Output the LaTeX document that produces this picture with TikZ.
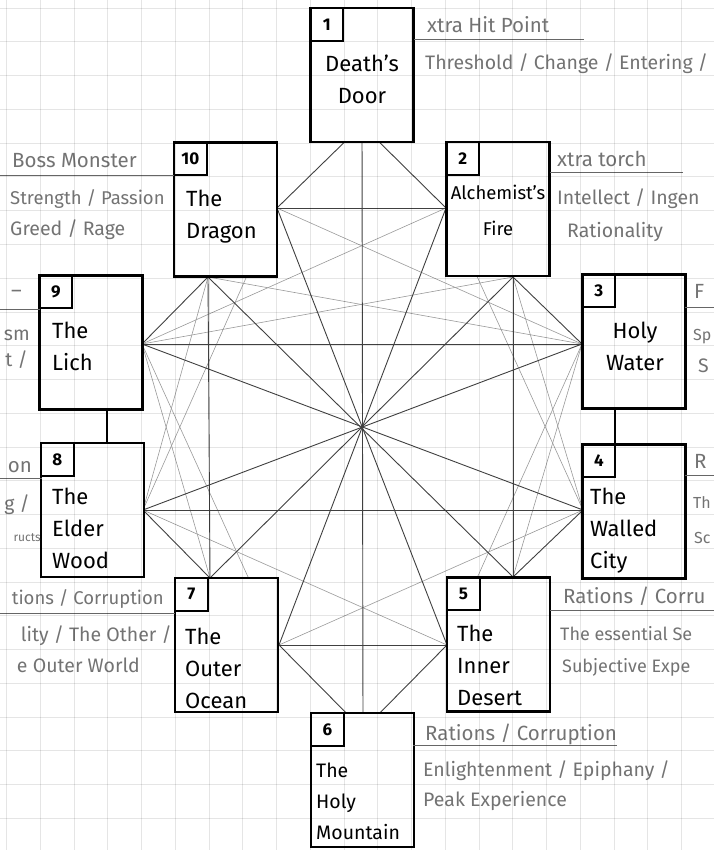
\documentclass[tikz,border=0pt]{standalone}
\usepackage{fontspec}
\setmainfont{Fira Sans}
\begin{document}
\begin{tikzpicture}[x=1pt,y=-1pt,
  card/.style={draw,line width=2.6pt,fill=white,minimum width=103pt,minimum height=134pt,inner sep=0pt},
  numbox/.style={draw,line width=2.2pt,minimum width=33pt,minimum height=33pt,inner sep=0pt,anchor=north west,font=\fontsize{17}{17}\selectfont\bfseries},
  title/.style={align=center,inner sep=0pt,font=\fontsize{22}{32}\selectfont},
  ltitle/.style={title,align=left,anchor=west},
  pencil/.style={text=black!55,inner sep=0pt,font=\fontsize{19.5}{20}\selectfont},
  head/.style={pencil,font=\fontsize{20.5}{20}\selectfont},
  ink/.style={black!75,line width=0.9pt},
  lead/.style={black!40,line width=0.6pt},
  rule/.style={black!60,line width=1pt},
  gridline/.style={black!10,line width=0.5pt}]
  \useasboundingbox (0,0) rectangle (714,850);
  \clip (0,0) rectangle (714,850);
  % anchor points of the web
  \coordinate (k1) at (362,125);
  \coordinate (k10r) at (277,208);
  \coordinate (k2l) at (446,208);
  \coordinate (k10b) at (208,277);
  \coordinate (k2b) at (513,277);
  \coordinate (k9) at (142,344);
  \coordinate (k3) at (582,344);
  \coordinate (k8) at (143,510);
  \coordinate (k4) at (583,510);
  \coordinate (k7t) at (210,578);
  \coordinate (k5t) at (513,577);
  \coordinate (k7r) at (279,645);
  \coordinate (k5l) at (447,645);
  \coordinate (k6) at (363,730);
  % light pencil lines
  \foreach \u/\v in {k10r/k3, k2l/k9, k9/k2b, k3/k10b, k8/k5l, k4/k7r, k9/k7t, k3/k5t, k8/k10b, k4/k2b, k10r/k8, k2l/k4, k9/k7r, k3/k5l}
    \draw[lead] (\u) -- (\v);
  % inked lines
  \foreach \u/\v in {k1/k10r, k1/k2l, k10r/k2l, k1/k6, k10b/k9, k2b/k3, k9/k3, k10b/k7t, k2b/k5t, k8/k4, k8/k7t, k4/k5t, k7r/k5l, k7r/k6, k5l/k6, k10b/k5t, k2b/k7t, k9/k4, k3/k8, k10r/k5l, k2l/k7r}
    \draw[ink] (\u) -- (\v);
  % cards
  \node[card] (c1) at (362,75) {};
  \node[card] (c2) at (498,209) {};
  \node[card] (c10) at (225.5,209.5) {};
  \node[card] (c9) at (91,342.5) {};
  \node[card] (c3) at (634,341.5) {};
  \node[card] (c8) at (92.5,510) {};
  \node[card] (c4) at (634,511.5) {};
  \node[card] (c7) at (226.5,645) {};
  \node[card] (c5) at (498.5,644.5) {};
  \node[card] (c6) at (362.5,780) {};
  \foreach \c/\n in {c1/1, c2/2, c3/3, c4/4, c5/5, c6/6, c7/7, c8/8, c9/9, c10/10}
    \node[numbox] (\c n) at (\c.north west) {\n};
  \draw[black,line width=1.3pt] ([xshift=16pt]c9.south) -- ([xshift=16pt]c9.south |- c8.north);
  \draw[black,line width=1.3pt] ([xshift=-19pt]c3.south) -- ([xshift=-19pt]c3.south |- c4.north);
  % titles
  \node[title] (t1) at (362,79) {Death's\\Door};
  \node[title,font=\fontsize{18.5}{36}\selectfont] (t2) at (498,210) {Alchemist's\\Fire};
  \node[title] (t3) at (635,346) {Holy\\Water};
  \node[ltitle] (t4) at (590,531) {The\\Walled\\City};
  \node[ltitle] (t5) at (457,665) {The\\Inner\\Desert};
  \node[ltitle,font=\fontsize{19.5}{31}\selectfont] (t6) at (316,801) {The\\Holy\\Mountain};
  \node[ltitle] (t7) at (185,668) {The\\Outer\\Ocean};
  \node[ltitle] (t8) at (52,528) {The\\Elder\\Wood};
  \node[ltitle] (t9) at (52,346) {The\\Lich};
  \node[ltitle] (t10) at (186,217) {The\\Dragon};
  % side notes
  \node[head,anchor=base west] (h1) at (427,33) {xtra Hit Point};
  \draw[rule] (414,40) -- (584,40);
  \node[pencil,anchor=base west] (s1) at (425,70) {Threshold / Change / Entering /};
  \node[head,anchor=base west] (h2) at (557,167) {xtra torch};
  \draw[rule] (550,173) -- (683,173);
  \node[pencil,anchor=base west] (s2) at (557,205) {Intellect / Ingen};
  \node[pencil,anchor=base west] (s2b) at (567,237) {Rationality};
  \node[head,anchor=base west] (h10) at (12,168) {Boss Monster};
  \draw[rule] (0,176) -- (174,176);
  \node[pencil,anchor=base west,font=\fontsize{18.5}{20}\selectfont] (s10) at (10,205) {Strength / Passion};
  \node[pencil,anchor=base west] (s10b) at (10,236) {Greed / Rage};
  \node[head,anchor=base east] (h9) at (22,297) {--};
  \draw[rule] (0,309) -- (40,309);
  \node[pencil,anchor=base east] (s9) at (30,340) {sm};
  \node[pencil,anchor=base east] (s9b) at (28,366) {t /};
  \node[head,anchor=base east] (h8) at (32,472) {on};
  \draw[rule] (0,478) -- (42,478);
  \node[pencil,anchor=base east] (s8) at (30,510) {g /};
  \node[pencil,anchor=base east,font=\fontsize{12}{14}\selectfont] (s8b) at (41,541) {ructs};
  \node[head,anchor=base west] (h3) at (694,298) {F};
  \draw[rule] (685,307) -- (714,307);
  \node[pencil,anchor=base west,font=\fontsize{16}{18}\selectfont] (s3) at (693,340) {Sp};
  \node[pencil,anchor=base west] (s3b) at (698,372) {S};
  \node[head,anchor=base west] (h4) at (694,468) {R};
  \draw[rule] (685,475) -- (714,475);
  \node[pencil,anchor=base west,font=\fontsize{16}{18}\selectfont] (s4) at (693,508) {Th};
  \node[pencil,anchor=base west,font=\fontsize{16}{18}\selectfont] (s4b) at (694,543) {Sc};
  \node[head,anchor=base east,font=\fontsize{18.5}{20}\selectfont] (h7) at (164,604) {tions / Corruption};
  \draw[rule] (0,613) -- (175,613);
  \node[pencil,anchor=base east] (s7) at (172,641) {lity / The Other /};
  \node[pencil,anchor=base east] (s7b) at (140,672) {e Outer World};
  \node[head,anchor=base west] (h5) at (563,603) {Rations / Corru};
  \draw[rule] (550,610) -- (714,610);
  \node[pencil,anchor=base west,font=\fontsize{18}{18}\selectfont] (s5) at (560,640) {The essential Se};
  \node[pencil,anchor=base west,font=\fontsize{18}{18}\selectfont] (s5b) at (562,672) {Subjective Expe};
  \node[head,anchor=base west] (h6) at (425,740) {Rations / Corruption};
  \draw[rule] (413,745) -- (617,745);
  \node[pencil,anchor=base west] (s6) at (423,776) {Enlightenment / Epiphany /};
  \node[pencil,anchor=base west] (s6b) at (423,806) {Peak Experience};
  % graph paper, laid under the ink
  \begin{scope}[blend mode=multiply]
    \foreach \gx in {6.25,40,...,714} \draw[gridline] (\gx,0) -- (\gx,850);
    \foreach \gy in {8,41.75,...,850} \draw[gridline] (0,\gy) -- (714,\gy);
  \end{scope}
\end{tikzpicture}
\end{document}
